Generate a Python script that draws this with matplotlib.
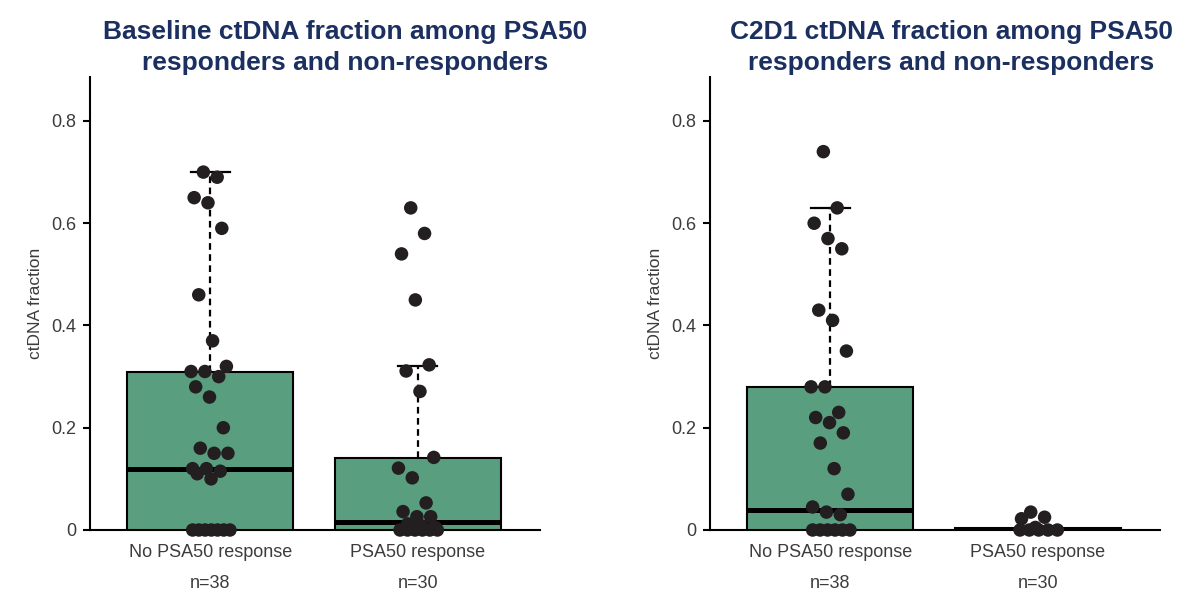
import matplotlib
matplotlib.use("Agg")
import matplotlib.pyplot as plt
import numpy as np

# ---------------- data ----------------
categories = ["No PSA50 response", "PSA50 response"]
n_labels = ["n=38", "n=30"]
titles = ["Baseline ctDNA fraction among PSA50\nresponders and non-responders",
          "C2D1 ctDNA fraction among PSA50\nresponders and non-responders"]
y_label = "ctDNA fraction"
y_ticks = [0, 0.2, 0.4, 0.6, 0.8]

# Baseline: individual patients (visible points)
baseline_no_resp = [0.70, 0.69, 0.65, 0.64, 0.59, 0.46, 0.37, 0.32, 0.31, 0.31,
                    0.30, 0.28, 0.26, 0.20, 0.16, 0.15, 0.15, 0.12, 0.12, 0.115,
                    0.11, 0.10, 0.0, 0.0, 0.0, 0.0, 0.0, 0.0, 0.0]
baseline_resp = [0.63, 0.58, 0.54, 0.45, 0.323, 0.311, 0.271, 0.142, 0.121, 0.102,
                 0.053, 0.036, 0.026, 0.026, 0.012, 0.008, 0.005, 0.0, 0.0, 0.0,
                 0.0, 0.0, 0.0]
# Baseline box statistics
baseline_q1 = [0.0, 0.0]
baseline_median = [0.12, 0.016]
baseline_q3 = [0.31, 0.14]
baseline_whisker_hi = [0.70, 0.32]

# C2D1: individual patients (visible points)
c2d1_no_resp = [0.74, 0.63, 0.60, 0.57, 0.55, 0.43, 0.41, 0.35, 0.28, 0.28,
                0.23, 0.22, 0.21, 0.19, 0.17, 0.12, 0.07, 0.045, 0.035, 0.03,
                0.0, 0.0, 0.0, 0.0, 0.0, 0.0]
c2d1_resp = [0.035, 0.025, 0.022, 0.005, 0.0, 0.0, 0.0, 0.0, 0.0]
# C2D1 box statistics
c2d1_q1 = [0.0, 0.0]
c2d1_median = [0.04, 0.001]
c2d1_q3 = [0.28, 0.004]
c2d1_whisker_hi = [0.63, 0.004]

# ---------------- style ----------------
plt.rcParams["font.family"] = ["Liberation Sans", "DejaVu Sans"]
BOX_COLOR = "#5a9e80"
POINT_COLOR = "#231f20"
TITLE_COLOR = "#1b3060"
TEXT_GRAY = "#3c3c3c"

W, H = 1200, 595
fig = plt.figure(figsize=(12, 5.95), dpi=100)

def px_rect(x0, x1, ytop, ybot):
    return [x0 / W, (H - ybot) / H, (x1 - x0) / W, (ybot - ytop) / H]

ax1 = fig.add_axes(px_rect(90, 540, 77, 530))
ax2 = fig.add_axes(px_rect(710, 1160, 77, 530))

DIAM_PX = 13.5
JITTER_HALF_WIDTH = 0.1


def van_der_corput(k, base=2):
    v, denom = 0.0, 1.0
    while k:
        k, r = divmod(k, base)
        denom *= base
        v += r / denom
    return v


def jitter_positions(values, center, half_width=JITTER_HALF_WIDTH):
    """Deterministic (low-discrepancy) horizontal jitter, like geom_jitter.
    Runs of identical values are spread evenly across the jitter band."""
    vals = np.asarray(values, dtype=float)
    order = np.argsort(-vals, kind="stable")
    xs = np.zeros(len(vals))
    for rank, i in enumerate(order):
        xs[i] = center + (van_der_corput(rank + 1, 3) - 0.5) * 2 * half_width
    for v in np.unique(vals):
        idx = np.where(vals == v)[0]
        if len(idx) > 2:
            xs[idx] = center + np.linspace(-0.85, 0.95, len(idx)) * half_width
    return xs


def draw_panel(ax, groups, q1, med, q3, whi, title, title_xpx):
    positions = [1, 2]
    ax.set_xlim(0.42, 2.59)
    ax.set_ylim(0, 0.886)
    stats = []
    for i in range(2):
        stats.append(dict(q1=q1[i], med=med[i], q3=q3[i], whislo=q1[i],
                          whishi=whi[i], fliers=[], label=categories[i]))
    ax.bxp(stats, positions=positions, widths=0.8, capwidths=0.19,
           patch_artist=True, showfliers=False,
           boxprops=dict(facecolor=BOX_COLOR, edgecolor="black", linewidth=1.5),
           whiskerprops=dict(color="black", linewidth=1.6, linestyle=(0, (3, 2))),
           capprops=dict(color="black", linewidth=1.6),
           medianprops=dict(color="black", linewidth=3.6, solid_capstyle="butt"))
    for i, vals in enumerate(groups):
        xs = jitter_positions(vals, positions[i])
        ax.scatter(xs, vals, s=(DIAM_PX * 0.72) ** 2, color=POINT_COLOR,
                   edgecolors="none", zorder=5, clip_on=False)
    for s in ["top", "right"]:
        ax.spines[s].set_visible(False)
    for s in ["left", "bottom"]:
        ax.spines[s].set_linewidth(1.5)
        ax.spines[s].set_zorder(1)
    ax.set_yticks(y_ticks)
    ax.set_yticklabels([f"{v:g}" for v in y_ticks])
    ax.tick_params(axis="y", length=5, width=1.5, pad=5, labelsize=13,
                   labelcolor=TEXT_GRAY)
    ax.set_xticks(positions)
    ax.set_xticklabels(categories)
    ax.tick_params(axis="x", length=0, pad=10, labelsize=13, labelcolor=TEXT_GRAY)
    for i, p in enumerate(positions):
        ax.annotate(n_labels[i], xy=(p, 0), xycoords=("data", "axes fraction"),
                    xytext=(0, -54 * 0.72), textcoords="offset points",
                    ha="center", va="center", fontsize=13, color=TEXT_GRAY)
    ax.set_ylabel(y_label, fontsize=12.5, color=TEXT_GRAY, labelpad=6)
    fig.text(title_xpx / W, (H - 47.5) / H, title, ha="center", va="center",
             fontsize=19, fontweight="bold", color=TITLE_COLOR, linespacing=1.42,
             multialignment="center")


draw_panel(ax1, [baseline_no_resp, baseline_resp], baseline_q1, baseline_median,
           baseline_q3, baseline_whisker_hi, titles[0], 345)
draw_panel(ax2, [c2d1_no_resp, c2d1_resp], c2d1_q1, c2d1_median,
           c2d1_q3, c2d1_whisker_hi, titles[1], 951)

fig.savefig("out.png", dpi=100)
